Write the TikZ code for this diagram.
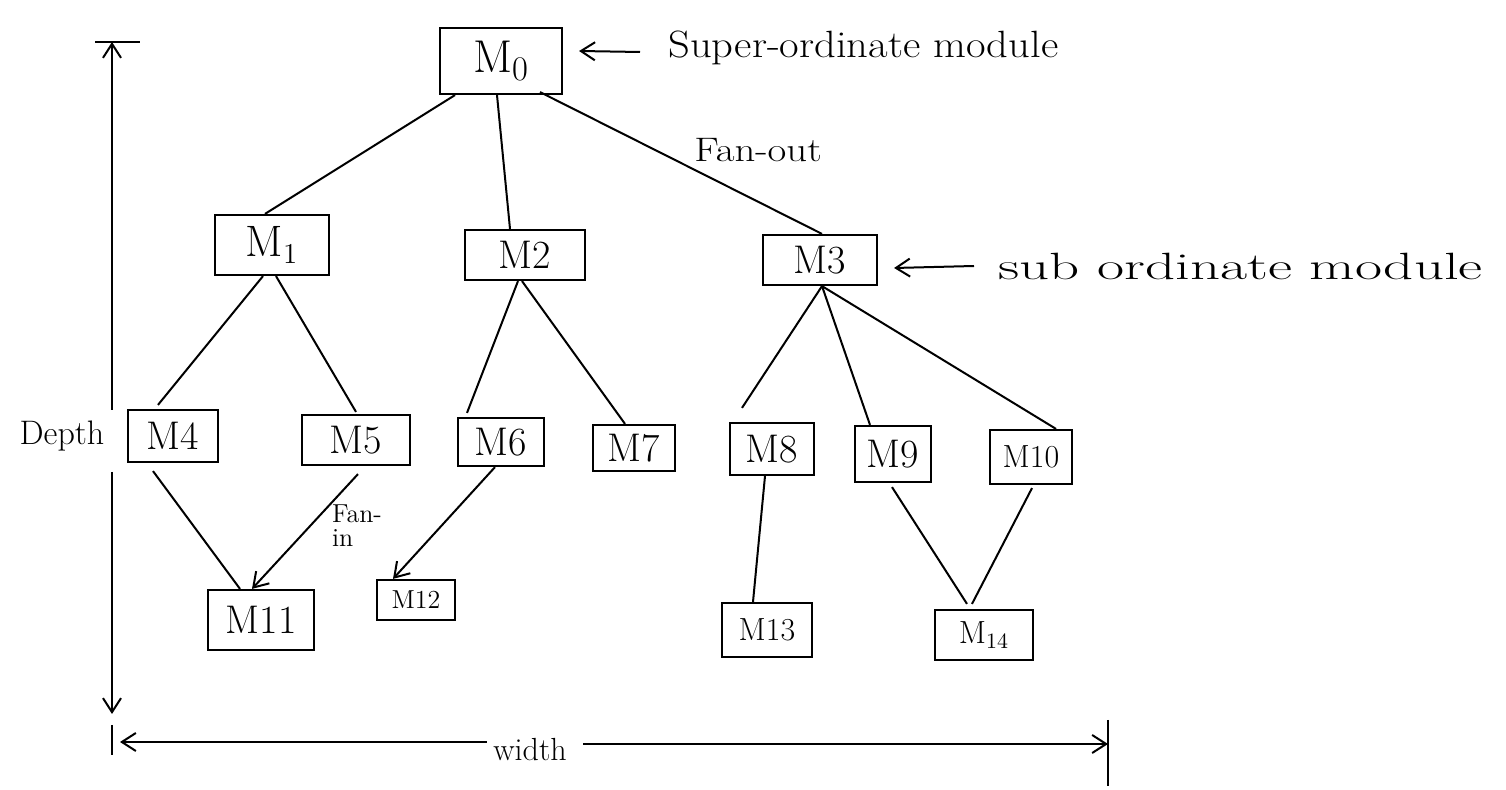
\documentclass[tikz,border=0pt]{standalone}
\usetikzlibrary{calc,arrows.meta}
\tikzset{
  every picture/.style={x=0.5pt,y=-0.5pt},
  module/.style={draw,line width=1.1pt,inner sep=0pt,font=\fontsize{20}{22}\selectfont},
  link/.style={line width=1pt},
  tip/.style={-{Straight Barb[length=7pt,width=9pt]}},
  note/.style={inner sep=0pt,font=\fontsize{19}{22}\selectfont}
}
\begin{document}
\begin{tikzpicture}
\useasboundingbox[fill=white] (0,0) rectangle (1506,790);

% modules, top level
\node[module,minimum width=61pt,minimum height=33pt,font=\fontsize{23}{25}\selectfont] (M0) at (501,61) {M$_0$};
% second level
\node[module,minimum width=57pt,minimum height=30pt,font=\fontsize{22}{24}\selectfont] (M1) at (272,245) {M$_1$};
\node[module,minimum width=60pt,minimum height=25pt] (M2) at (525,255) {M2};
\node[module,minimum width=57pt,minimum height=25pt] (M3) at (820,260) {M3};
% third level
\node[module,minimum width=45pt,minimum height=26pt] (M4) at (173,436) {M4};
\node[module,minimum width=54pt,minimum height=25pt] (M5) at (356,440) {M5};
\node[module,minimum width=43pt,minimum height=24pt] (M6) at (501,442) {M6};
\node[module,minimum width=41pt,minimum height=23pt] (M7) at (634,448) {M7};
\node[module,minimum width=42pt,minimum height=26pt] (M8) at (772,449) {M8};
\node[module,minimum width=38pt,minimum height=28pt] (M9) at (893,454) {M9};
\node[module,minimum width=41pt,minimum height=27pt,font=\fontsize{16}{18}\selectfont] (M10) at (1031,457) {M10};
% fourth level
\node[module,minimum width=53pt,minimum height=30pt] (M11) at (261,620) {M11};
\node[module,minimum width=39pt,minimum height=20pt,font=\fontsize{13}{15}\selectfont] (M12) at (416,600) {M12};
\node[module,minimum width=45pt,minimum height=27pt,font=\fontsize{16}{18}\selectfont] (M13) at (767,630) {M13};
\node[module,minimum width=49pt,minimum height=25pt,font=\fontsize{16}{18}\selectfont] (M14) at (984,635) {M$_{14}$};

% connections between modules
\draw[link] ($(M0.south)+(-46,0)$) -- ($(M1.north)+(-7,0)$);
\draw[link] ($(M0.south)+(-4,0)$) -- ($(M2.north)+(-15,0)$);
\draw[link] ($(M0.south)+(39,-3)$) -- ($(M3.north)+(2,0)$);
\draw[link] ($(M1.south)+(-9,0)$) -- ($(M4.north)+(-15,-4)$);
\draw[link] ($(M1.south)+(4,0)$) -- ($(M5.north)+(0,-2)$);
\draw[link] ($(M2.south)+(-7,0)$) -- ($(M6.north)+(-34,-4)$);
\draw[link] ($(M2.south)+(-3,0)$) -- ($(M7.north)+(-9,0)$);
\draw[link] ($(M3.south)+(2,0)$) -- ($(M8.north)+(-30,-14)$);
\draw[link] ($(M3.south)+(2,0)$) -- ($(M9.north)+(-23,0)$);
\draw[link] ($(M3.south)+(2,0)$) -- ($(M10.north)+(25,0)$);
\draw[link] ($(M4.south)+(-20,8)$) -- ($(M11.north)+(-21,0)$);
\draw[link,tip] ($(M5.south)+(2,8)$) -- ($(M11.north)+(-9,0)$);
\draw[link,tip] ($(M6.south)+(-6,0)$) -- ($(M12.north)+(-23,0)$);
\draw[link] ($(M8.south)+(-7,0)$) -- ($(M13.north)+(-14,0)$);
\draw[link] ($(M9.south)+(-1,4)$) -- ($(M14.north)+(-17,-5)$);
\draw[link] ($(M10.south)+(1,3)$) -- ($(M14.north)+(-12,-5)$);

% annotations
\node[note,anchor=west] (sup) at (668,48) {\scalebox{1.12}[1]{Super-ordinate module}};
\draw[link,tip] ([xshift=-14pt,yshift=-2pt]sup.west) -- ([xshift=8pt,yshift=5pt]M0.east);
\node[note,anchor=west] (sub) at (998,266) {\scalebox{1.55}[1]{sub ordinate module}};
\draw[link,tip] ([xshift=-12pt]sub.west) -- ([xshift=8pt,yshift=-4pt]M3.east);
\node[note,font=\fontsize{17}{19}\selectfont] (fanout) at (758,150) {\scalebox{1.2}[1]{Fan-out}};
\node[note,font=\fontsize{13}{12}\selectfont,align=left] (fanin) at (357,526) {Fan-\\ in};

% depth measure
\coordinate (dtop) at (112,42);
\coordinate (dup) at (112,410);
\coordinate (dlow) at (112,472);
\coordinate (dbot) at (112,714);
\node[note,font=\fontsize{17}{19}\selectfont] (depth) at (62,436) {Depth};
\draw[link] (95,42) -- (140,42);
\draw[link,tip] (dup) -- (dtop);
\draw[link,tip] (dlow) -- (dbot);

% width measure
\coordinate (wl) at (120,742);
\coordinate (wr) at (1108,744);
\node[note,font=\fontsize{16}{18}\selectfont] (width) at (530,750) {width};
\draw[link] (112,725) -- (112,755);
\draw[link] (1108,720) -- (1108,786);
\draw[link,tip] ([xshift=-3pt]width.west |- wl) -- (wl);
\draw[link,tip] ([xshift=8pt]width.east |- wr) -- (wr);
\end{tikzpicture}
\end{document}
